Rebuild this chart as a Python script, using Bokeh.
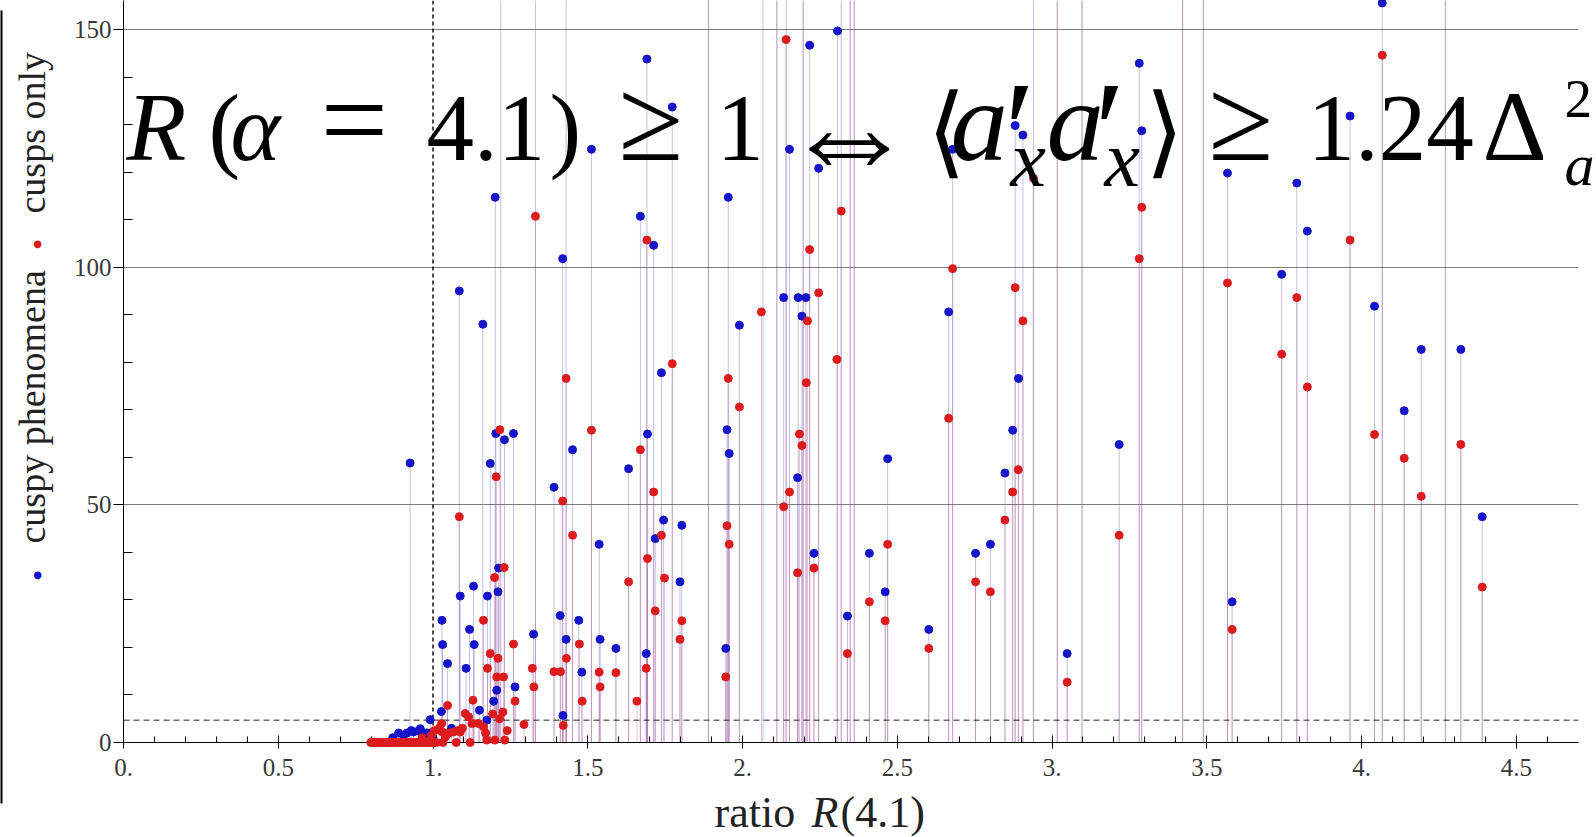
import math
from bokeh.plotting import figure
from bokeh.models import Range1d, FixedTicker, Span, ColumnDataSource
from bokeh.core.properties import value
from bokeh.embed import file_html
from bokeh.resources import INLINE

# ---------------- data ----------------
x_ticks = [0, 0.5, 1, 1.5, 2, 2.5, 3, 3.5, 4, 4.5]
x_tick_labels = ["0.", "0.5", "1.", "1.5", "2.", "2.5", "3.", "3.5", "4.", "4.5"]
x_minor = [0.1, 0.2, 0.3, 0.4, 0.6, 0.7, 0.8, 0.9, 1.1, 1.2, 1.3, 1.4, 1.6, 1.7, 1.8, 1.9,
           2.1, 2.2, 2.3, 2.4, 2.6, 2.7, 2.8, 2.9, 3.1, 3.2, 3.3, 3.4, 3.6, 3.7, 3.8, 3.9,
           4.1, 4.2, 4.3, 4.4, 4.6]
y_ticks = [0, 50, 100, 150]
y_minor = [10, 20, 30, 40, 60, 70, 80, 90, 110, 120, 130, 140]
y_grid = [50, 100, 150]

threshold_ratio = 1.0
threshold_count = 4.7

# "cuspy phenomena" (blue)
blue_x = [0.820, 0.850, 0.870, 0.889, 0.905, 0.916, 0.930, 0.937, 0.953, 0.959, 0.970, 0.980, 0.991, 0.991, 1.000,
          0.926, 1.027, 1.029, 1.031, 1.047, 1.060, 1.085, 1.088, 1.107, 1.118, 1.131, 1.133, 1.150, 1.161,
          1.174, 1.176, 1.185, 1.196, 1.201, 1.203, 1.206, 1.212, 1.210, 1.231, 1.260, 1.265, 1.325, 1.391,
          1.411, 1.419, 1.420, 1.430, 1.451, 1.471, 1.481, 1.512, 1.537, 1.540, 1.591, 1.632, 1.670, 1.691,
          1.693, 1.689, 1.713, 1.718, 1.738, 1.745, 1.773, 1.798, 1.804, 1.946, 1.950, 1.957, 1.954, 1.990,
          2.133, 2.152, 2.178, 2.180, 2.192, 2.205, 2.217, 2.231, 2.246, 2.307, 2.339, 2.410, 2.461, 2.469,
          2.602, 2.666, 2.679, 2.753, 2.801, 2.848, 2.873, 2.881, 2.892, 2.906, 3.049, 3.217, 3.282, 3.290,
          3.567, 3.582, 3.742, 3.791, 3.825, 3.963, 4.042, 4.067, 4.138, 4.193, 4.321, 4.390,
          1.219, 1.331, 1.430, 1.890, 2.066, 2.111, 2.141, 2.196, 2.319, 2.348, 2.361, 2.940, 3.017,
          3.097, 3.422, 3.489, 4.271]
blue_y = [0.0, 0.0, 1.0, 2.0, 1.5, 2.0, 2.5, 2.2, 2.4, 2.9, 1.5, 2.0, 2.0, 4.8, 1.0,
          58.8, 6.5, 25.7, 20.6, 16.6, 3.0, 95.0, 30.8, 15.6, 23.8, 32.9, 20.6, 6.8, 88.0,
          4.7, 30.8, 58.7, 8.7, 114.7, 65.0, 11.0, 36.7, 31.7, 63.7, 65.0, 11.7, 22.8, 53.7,
          26.7, 101.8, 5.7, 21.7, 61.6, 25.7, 14.8, 124.8, 41.7, 21.7, 19.8, 57.6, 110.7, 143.8,
          64.9, 18.7, 104.6, 42.9, 77.8, 46.8, 133.7, 33.8, 45.7, 19.8, 65.8, 60.8, 114.7, 87.8,
          93.6, 124.8, 55.7, 93.6, 89.7, 93.6, 146.7, 39.8, 120.8, 149.7, 26.6, 39.8, 31.7, 59.7,
          23.8, 90.6, 124.8, 39.8, 41.7, 56.7, 65.7, 129.8, 76.6, 127.8, 18.7, 62.7, 142.9, 128.7,
          119.8, 29.6, 98.5, 117.7, 107.6, 131.8, 91.8, 155.6, 69.8, 82.7, 82.7, 47.5,
          170, 185, 190, 210, 175, 220, 180, 200, 175, 190, 240, 170, 200,
          230, 180, 210, 190]

# "cusps only" (red)
red_x = [0.799, 0.804, 0.811, 0.816, 0.823, 0.829, 0.834, 0.842, 0.847, 0.853, 0.861, 0.866, 0.873,
         0.879, 0.884, 0.891, 0.897, 0.903, 0.908, 0.915, 0.921, 0.926, 0.933, 0.939, 0.944, 0.951,
         0.957, 0.962, 0.969, 0.975, 0.981, 0.986, 0.993, 0.998, 1.004, 1.011, 1.032, 1.075, 1.120,
         0.965, 0.995, 1.005, 1.020, 1.028, 1.030, 1.040, 1.047, 1.052, 1.066, 1.080, 1.088, 1.095,
         1.104, 1.115, 1.126, 1.129, 1.147, 1.163, 1.170, 1.174, 1.193, 1.200, 1.215, 1.226, 1.232,
         1.240,
         1.085, 1.163, 1.176, 1.185, 1.199, 1.204, 1.206, 1.210, 1.216, 1.228, 1.230, 1.260, 1.265,
         1.294, 1.321, 1.326, 1.331, 1.391, 1.412, 1.419, 1.421, 1.430, 1.431, 1.451, 1.473, 1.482,
         1.512, 1.537, 1.540, 1.591, 1.632, 1.659, 1.670, 1.691, 1.693, 1.689, 1.713, 1.718, 1.738,
         1.748, 1.773, 1.798, 1.804, 1.946, 1.950, 1.957, 1.954, 1.990, 2.061, 2.133, 2.141, 2.152,
         2.178, 2.184, 2.192, 2.206, 2.210, 2.217, 2.231, 2.246, 2.305, 2.319, 2.339, 2.410, 2.461,
         2.469, 2.602, 2.666, 2.679, 2.753, 2.801, 2.848, 2.873, 2.881, 2.891, 2.906, 2.940, 3.049,
         3.217, 3.282, 3.290, 3.567, 3.582, 3.742, 3.791, 3.825, 3.963, 4.042, 4.067, 4.138, 4.193,
         4.321, 4.390,
         1.890, 2.111, 2.196, 2.348, 2.361, 3.017, 3.097, 3.422, 3.489, 4.271]
red_y = [0.0] * 36 + [0.0, 0.0, 0.0,
         1.0, 1.5, 2.5, 3.0, 4.0, 2.2, 1.2, 7.8, 2.0, 2.2, 2.5, 2.2, 3.0,
         6.1, 5.4, 4.0, 8.9, 4.0, 3.3, 2.0, 0.5, 6.0, 0.5, 5.0, 6.4, 0.5,
         2.5,
         47.5, 25.7, 15.6, 18.7, 34.7, 55.9, 13.8, 17.7, 65.8, 13.8, 36.8, 20.7, 8.7,
         3.8, 15.6, 11.7, 110.7, 14.9, 14.9, 50.8, 3.6, 76.6, 17.7, 43.6, 20.7, 8.7,
         65.7, 14.8, 11.7, 14.7, 33.8, 8.7, 61.6, 105.7, 38.7, 15.6, 52.7, 27.7, 43.6,
         34.6, 79.7, 21.7, 25.6, 13.8, 45.6, 41.7, 76.6, 70.6, 90.6, 49.6, 147.9, 52.7,
         35.7, 64.9, 62.5, 75.7, 88.7, 103.7, 36.7, 94.6, 80.6, 111.8, 18.7, 29.6, 25.6,
         41.7, 19.8, 68.2, 99.7, 33.8, 31.7, 46.8, 52.7, 95.7, 57.4, 88.7, 118.7, 12.7,
         43.6, 101.8, 112.6, 96.7, 23.8, 81.7, 93.6, 74.8, 105.7, 64.8, 144.6, 59.8, 51.8,
         62.7, 32.7,
         190, 200, 185, 175, 210, 180, 200, 170, 190, 175]

series_names = ["cuspy phenomena", "cusps only"]
blue_color = "#1414c8"
red_color = "#dc1c1c"

# ---------------- figure ----------------
X0, Y0 = 123, 742          # frame origin on the canvas (px)
XS, YS = 309.5, 4.753      # px per data unit

p = figure(width=1596, height=837, output_backend="svg", toolbar_location=None,
           x_range=Range1d(0, 1455 / XS), y_range=Range1d(0, 742 / YS),
           min_border_left=X0, min_border_right=18, min_border_top=0, min_border_bottom=95)
p.outline_line_color = None
p.background_fill_color = "white"
p.border_fill_color = "white"

p.xgrid.visible = False
p.ygrid.ticker = FixedTicker(ticks=y_grid)
p.ygrid.grid_line_color = "#7c7c7c"
p.ygrid.grid_line_width = 1

xa = p.xaxis[0]
xa.ticker = FixedTicker(ticks=x_ticks, minor_ticks=x_minor)
xa.major_label_overrides = dict(zip(x_ticks, x_tick_labels))
xa.major_tick_in = 7
xa.major_tick_out = 6
xa.minor_tick_in = 6
xa.minor_tick_out = 0
xa.major_label_standoff = 10
ya = p.yaxis[0]
ya.ticker = FixedTicker(ticks=y_ticks, minor_ticks=y_minor)
ya.major_tick_in = 0
ya.major_tick_out = 10
ya.minor_tick_in = 9
ya.minor_tick_out = 0
ya.major_label_standoff = 2
for ax in (xa, ya):
    ax.axis_line_color = "black"
    ax.major_tick_line_color = "black"
    ax.minor_tick_line_color = "black"
    ax.major_label_text_font = "Liberation Serif"
    ax.major_label_text_font_size = "25px"
    ax.major_label_text_color = "#383838"

blue_src = ColumnDataSource(dict(x=blue_x, y=blue_y, y0=[0] * len(blue_x)))
red_src = ColumnDataSource(dict(x=red_x, y=red_y, y0=[0] * len(red_x)))

# drop lines (filling to the axis)
p.segment(x0="x", y0="y0", x1="x", y1="y", source=blue_src, line_color="#5a5ac8",
          line_alpha=0.38, line_width=1)
p.segment(x0="x", y0="y0", x1="x", y1="y", source=red_src, line_color="#c83c70",
          line_alpha=0.32, line_width=1)

# threshold lines
p.add_layout(Span(location=threshold_ratio, dimension="height", line_color="black",
                  line_dash="4 3", line_width=1.4))
p.add_layout(Span(location=threshold_count, dimension="width", line_color="#222222",
                  line_dash="6 4", line_width=1))

# points (overlay level so that the dots on the axis are not cut in half)
rb = p.scatter("x", "y", source=blue_src, size=8, fill_color=blue_color, line_color=blue_color)
rr = p.scatter("x", "y", source=red_src, size=8, fill_color=red_color, line_color=red_color)
rb.level = "overlay"
rr.level = "overlay"


def to_data(px, py):
    return (px - X0) / XS, (Y0 - py) / YS


BASE_SHIFT = 0.34   # measured offset of the rendered baseline, in em


def txt(s, px, py, size, style="normal", color="black", align="left",
        baseline="alphabetic", angle=0, font="Liberation Serif"):
    if baseline == "alphabetic":
        if angle == 0:
            py = py - BASE_SHIFT * size
        else:
            px = px - BASE_SHIFT * size
    x, y = to_data(px, py)
    r = p.text(x=[x], y=[y], text=[s], text_font=value(font), text_font_size=value(f"{size}px"),
               text_font_style=value(style), text_color=color, text_align=value(align),
               text_baseline=value(baseline), angle=angle)
    r.level = "overlay"
    return r


# frame edge of the original picture
bx0, by0 = to_data(1, 10)
bx1, by1 = to_data(1, 803)
edge = p.segment(x0=[bx0], y0=[by0], x1=[bx1], y1=[by1], line_color="black", line_width=2)
edge.level = "overlay"

# axis titles / legend
txt("ratio", 714, 827, 44, color="#222222")
txt("R", 811, 827, 44, style="italic", color="#222222")
txt("(4.1)", 840, 827, 44, color="#222222")
txt(series_names[0], 44, 543, 38, angle=math.pi / 2, color="#222222")
txt(series_names[1], 44, 213, 38, angle=math.pi / 2, color="#222222")
txt("\u25cf", 37, 574, 10, color=blue_color, align="center", baseline="middle", font="DejaVu Sans")
txt("\u25cf", 37, 243, 10, color=red_color, align="center", baseline="middle", font="DejaVu Sans")

# big formula
B = 160
txt("R", 126, B, 98, style="italic")
txt("(", 208, B, 95)
txt("\u03b1", 230, B, 95, style="italic")
txt("=", 320, B, 120)
txt("4.1", 426, B, 95)
txt(")", 549, B, 95)
txt("\u2265", 618, B, 118)
txt("1", 716, B, 95)
txt("\u21d4", 781, 134, 135, baseline="middle", font="DejaVu Sans ExtraLight")
txt("\u27e8", 926, 165, 100)
txt("a", 950, B, 115, style="italic")
txt("\u2032", 1004, 178, 140)
txt("x", 1010, 186, 80, style="italic")
txt("a", 1046, B, 115, style="italic")
txt("\u2032", 1094, 178, 140)
txt("x", 1104, 186, 80, style="italic")
txt("\u27e9", 1144, 165, 100)
txt("\u2265", 1208, B, 118)
txt("1.24", 1307, B, 95)
txt("\u0394", 1482, B, 100)
txt("2", 1564, 117, 55)
txt("a", 1564, 185, 60, style="italic")

open("out.html", "w").write(file_html(p, INLINE))
